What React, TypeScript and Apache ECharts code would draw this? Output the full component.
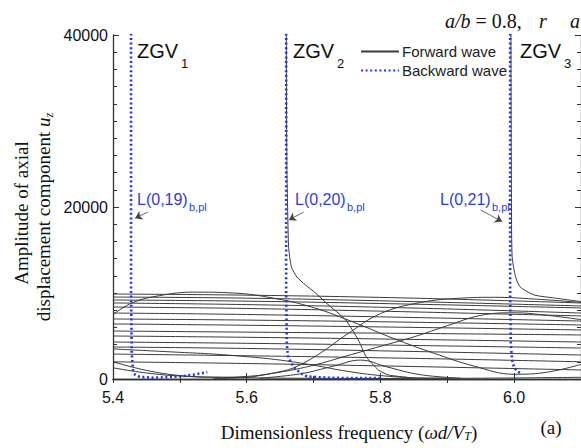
import React, { useEffect, useRef } from 'react';
import * as echarts from 'echarts';

// ---- data ----
const xTicks = [5.4, 5.6, 5.8, 6.0];
const yTicks = [0, 20000, 40000];

// nearly flat forward-wave branches, sampled at flatX
const flatX = [5.4, 5.6, 5.85, 6.1];
const flatLineValues = [
  [9880, 9750, 9400, 8840],
  [9530, 9400, 9000, 8490],
  [9190, 9050, 8700, 8260],
  [8840, 8650, 8250, 7670],
  [8370, 8200, 7800, 7330],
  [7670, 7500, 7150, 6740],
  [6980, 6850, 6600, 6280],
  [6400, 6250, 6000, 5700],
  [5580, 5450, 5300, 5120],
  [5000, 4850, 4600, 4300],
  [4300, 4150, 3900, 3600],
  [3720, 3550, 3200, 2790],
  [2900, 2700, 2400, 2000],
  [2000, 1800, 1450, 1050],
];

// crossing forward-wave branches
const humpBranch = [
  [5.40, 7500], [5.43, 8900], [5.47, 9700], [5.52, 10100], [5.58, 10000], [5.64, 9400],
  [5.70, 8300], [5.76, 6600], [5.82, 4700], [5.88, 3000], [5.94, 1500], [6.00, 550],
  [6.05, 800], [6.10, 1700],
];
const steepRiseBranch = [
  [5.55, 50], [5.60, 200], [5.64, 700], [5.67, 1300], [5.71, 3000], [5.75, 5200],
  [5.80, 7600], [5.86, 8900], [5.92, 9400], [5.97, 9500], [6.03, 9300], [6.10, 8900],
];
const lowArcBranch = [
  [5.40, 2000], [5.45, 1000], [5.50, 400], [5.55, 200], [5.60, 300], [5.65, 800],
  [5.70, 1600], [5.75, 2700], [5.80, 3800], [5.85, 4900], [5.90, 6200], [5.95, 7400],
  [6.00, 7700], [6.05, 7400], [6.10, 6900],
];
const fallingBranch = [
  [5.40, 3500], [5.45, 3300], [5.50, 3100], [5.55, 2900], [5.60, 2600], [5.65, 2200],
  [5.70, 1600], [5.75, 900], [5.80, 400], [5.85, 150], [5.90, 100],
];
const bumpBranch = [
  [5.62, 100], [5.68, 600], [5.73, 1500], [5.77, 2200], [5.81, 1400], [5.86, 500], [5.92, 100],
];
const floorBranch = [
  [5.40, 1300], [5.45, 700], [5.50, 350], [5.60, 150], [5.70, 80], [5.80, 60],
  [5.90, 80], [6.00, 120], [6.10, 200],
];
const zgv2Forward = [
  [5.659, 45000], [5.660, 25000], [5.662, 17000], [5.663, 15000], [5.667, 13000],
  [5.675, 11860], [5.688, 10930], [5.703, 10000], [5.719, 8840], [5.748, 6860],
  [5.767, 4530], [5.779, 2560], [5.797, 1050], [5.812, 470], [5.84, 200],
];
const zgv3Forward = [
  [5.995, 45000], [5.996, 20000], [5.997, 14200], [6.002, 11900], [6.009, 10700],
  [6.030, 9770], [6.060, 9420], [6.100, 9000],
];

// backward-wave branches (blue dotted)
const zgv1Backward = [
  [5.427, 45000], [5.427, 10000], [5.428, 3000], [5.429, 2000], [5.430, 1000],
  [5.433, 500], [5.440, 250], [5.46, 150], [5.48, 200], [5.50, 300], [5.52, 500], [5.541, 800],
];
const zgv2Backward = [
  [5.659, 45000], [5.659, 10000], [5.660, 4000], [5.662, 2500], [5.670, 1400],
  [5.680, 700], [5.690, 300], [5.720, 150], [5.760, 100], [5.800, 100],
];
const zgv3Backward = [
  [5.994, 45000], [5.994, 10000], [5.995, 4000], [5.997, 2200], [6.000, 1300],
  [6.005, 900], [6.009, 700],
];

// annotation arrows (data coordinates)
const arrow1 = [[5.452, 19400], [5.433, 18700]];
const arrow2 = [[5.685, 19400], [5.663, 18500]];
const arrow3 = [[5.950, 19650], [5.982, 18300]];

const SANS = 'Arial, "Liberation Sans", sans-serif';
const SERIF = '"Times New Roman", "Liberation Serif", serif';
const FWD = '#3a3a3a';
const BLUE = '#2236e0';
const TEXT_BLUE = '#2b3fd6';

function forward(data: number[][], smooth = 0.3) {
  return {
    type: 'line',
    name: 'Forward wave',
    data,
    symbol: 'none',
    smooth,
    lineStyle: { color: FWD, width: 1 },
    itemStyle: { color: FWD },
    z: 2,
  };
}

function backward(data: number[][], arrow: number[][]) {
  return {
    type: 'line',
    name: 'Backward wave',
    data,
    symbol: 'none',
    smooth: false,
    lineStyle: { color: BLUE, width: 2.6, type: [2, 2.6] },
    itemStyle: { color: BLUE },
    z: 3,
    markLine: {
      silent: true,
      symbol: ['none', 'arrow'],
      symbolSize: 7,
      label: { show: false },
      lineStyle: { color: '#444', width: 0.8, type: 'solid' },
      data: [[{ coord: arrow[0] }, { coord: arrow[1] }]],
    },
  };
}

export default function App() {
  const ref = useRef<HTMLDivElement>(null);
  useEffect(() => {
    const chart = echarts.init(ref.current!, null, { renderer: 'svg' });
    const series: any[] = [];
    flatLineValues.forEach((vals) => {
      series.push(forward(flatX.map((x, i) => [x, vals[i]]), 0.4));
    });
    [humpBranch, steepRiseBranch, lowArcBranch, fallingBranch, bumpBranch, floorBranch].forEach((d) =>
      series.push(forward(d, 0.4))
    );
    series.push(forward(zgv2Forward, 0.2));
    series.push(forward(zgv3Forward, 0.2));
    series.push(backward(zgv1Backward, arrow1));
    series.push(backward(zgv2Backward, arrow2));
    series.push(backward(zgv3Backward, arrow3));

    const axisLine = { show: true, lineStyle: { color: '#333', width: 1.3 } };
    const option: any = {
      animation: false,
      backgroundColor: '#fff',
      grid: { left: 113, top: 35, right: -3, bottom: 69, containLabel: false },
      legend: {
        data: ['Forward wave', 'Backward wave'],
        orient: 'vertical',
        left: 355,
        top: 39,
        itemWidth: 38,
        itemHeight: 12,
        itemGap: 4,
        itemStyle: { opacity: 0 },
        textStyle: { fontSize: 15, fontFamily: SANS, color: '#222', padding: [0, 0, 0, -2] },
        selectedMode: false,
      },
      xAxis: [
        {
          type: 'value',
          min: 5.4,
          max: 6.1,
          interval: 0.2,
          axisLine,
          axisTick: { inside: true, length: 6, lineStyle: { color: '#333' } },
          minorTick: { show: true, splitNumber: 2, length: 3, lineStyle: { color: '#333' } },
          splitLine: { show: false },
          axisLabel: {
            fontSize: 16,
            fontFamily: SANS,
            color: '#111',
            margin: 10,
            customValues: xTicks,
            formatter: (v: number) => v.toFixed(1),
          },
        },
        {
          type: 'value',
          position: 'top',
          min: 5.4,
          max: 6.1,
          interval: 0.1,
          axisLine,
          axisTick: { inside: true, length: 4, lineStyle: { color: '#333' } },
          axisLabel: { show: false },
          splitLine: { show: false },
        },
      ],
      yAxis: [
        {
          type: 'value',
          min: 0,
          max: 40000,
          interval: 20000,
          axisLine,
          axisTick: { inside: true, length: 6, lineStyle: { color: '#333' } },
          minorTick: { show: true, splitNumber: 10, length: 4, lineStyle: { color: '#333' } },
          splitLine: { show: false },
          axisLabel: {
            fontSize: 16,
            fontFamily: SANS,
            color: '#111',
            margin: 5,
            customValues: yTicks,
            formatter: (v: number) => String(v),
          },
        },
        {
          type: 'value',
          position: 'right',
          min: 0,
          max: 40000,
          interval: 20000,
          axisLine,
          axisTick: { inside: true, length: 6, lineStyle: { color: '#333' } },
          minorTick: { show: true, splitNumber: 10, length: 4, lineStyle: { color: '#333' } },
          splitLine: { show: false },
          axisLabel: { show: false },
        },
      ],
      series,
      graphic: [
        {
          type: 'text',
          x: 445,
          y: 21,
          style: {
            text: '{i|a/b} = 0.8,',
            font: `20px ${SERIF}`,
            fill: '#111',
            verticalAlign: 'middle',
            rich: { i: { fontStyle: 'italic', fontSize: 20, fontFamily: SERIF } },
          },
        },
        {
          type: 'text',
          x: 539,
          y: 21,
          style: { text: 'r', font: `italic 20px ${SERIF}`, fill: '#111', verticalAlign: 'middle' },
        },
        {
          type: 'text',
          x: 570,
          y: 21,
          style: { text: 'a', font: `italic 20px ${SERIF}`, fill: '#111', verticalAlign: 'middle' },
        },
        // ZGV labels
        ...[
          [137, '1'],
          [293, '2'],
          [520, '3'],
        ].map(([x, s]) => ({
          type: 'group',
          children: [
            {
              type: 'text',
              x: x as number,
              y: 51,
              style: { text: 'ZGV', font: `20px ${SANS}`, fill: '#111', verticalAlign: 'middle' },
            },
            {
              type: 'text',
              x: (x as number) + 44,
              y: 63,
              style: { text: s as string, font: `13px ${SANS}`, fill: '#111', verticalAlign: 'middle' },
            },
          ],
        })),
        // L(0,n) labels
        ...[
          [137, 'L(0,19)'],
          [295, 'L(0,20)'],
          [440, 'L(0,21)'],
        ].map(([x, t]) => ({
          type: 'group',
          children: [
            {
              type: 'text',
              x: x as number,
              y: 199,
              style: { text: t as string, font: `16px ${SANS}`, fill: TEXT_BLUE, verticalAlign: 'middle' },
            },
            {
              type: 'text',
              x: (x as number) + 52,
              y: 207,
              style: { text: 'b,pl', font: `11px ${SANS}`, fill: TEXT_BLUE, verticalAlign: 'middle' },
            },
          ],
        })),
        // Y axis title
        {
          type: 'text',
          x: 21,
          y: 213,
          rotation: Math.PI / 2,
          style: {
            text: 'Amplitude of axial',
            font: `19px ${SERIF}`,
            fill: '#111',
            align: 'center',
            verticalAlign: 'middle',
          },
        },
        {
          type: 'text',
          x: 43,
          y: 217,
          rotation: Math.PI / 2,
          style: {
            text: 'displacement component {i|u}{s|z}',
            font: `19px ${SERIF}`,
            fill: '#111',
            align: 'center',
            verticalAlign: 'middle',
            rich: {
              i: { fontStyle: 'italic', fontSize: 19, fontFamily: SERIF },
              s: { fontStyle: 'italic', fontSize: 12, fontFamily: SERIF, padding: [12, 0, 0, 0] },
            },
          },
        },
        // X axis title
        {
          type: 'text',
          x: 349,
          y: 432,
          style: {
            text: 'Dimensionless frequency ({i|ωd/V}{s|T})',
            font: `19px ${SERIF}`,
            fill: '#111',
            align: 'center',
            verticalAlign: 'middle',
            rich: {
              i: { fontStyle: 'italic', fontSize: 19, fontFamily: SERIF },
              s: { fontStyle: 'italic', fontSize: 12, fontFamily: SERIF, padding: [8, 0, 0, 0] },
            },
          },
        },
        {
          type: 'text',
          x: 551,
          y: 427,
          style: { text: '(a)', font: `19px ${SERIF}`, fill: '#111', align: 'center', verticalAlign: 'middle' },
        },
      ],
    };
    chart.setOption(option);
    return () => chart.dispose();
  }, []);
  return <div ref={ref} style={{ position: 'fixed', left: 0, top: 0, width: 581, height: 448 }} />;
}
